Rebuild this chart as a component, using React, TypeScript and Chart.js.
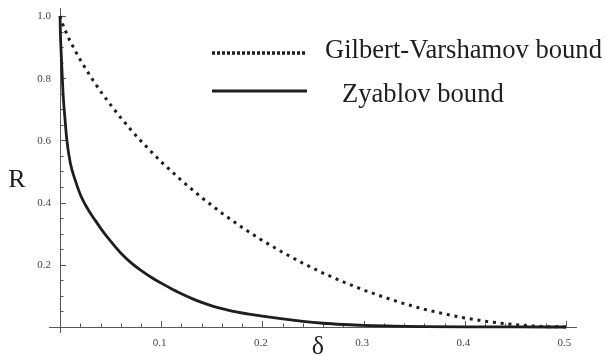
import React, { useEffect, useRef } from "react";
import { Chart, registerables } from "chart.js";

Chart.register(...registerables);

// Gilbert-Varshamov bound
const gvDelta = [0, 0.0025, 0.005, 0.0075, 0.01, 0.015, 0.02, 0.03, 0.04, 0.05, 0.06, 0.07, 0.08, 0.09, 0.1, 0.12, 0.14, 0.16, 0.18, 0.2, 0.22, 0.24, 0.26, 0.28, 0.3, 0.32, 0.34, 0.36, 0.38, 0.4, 0.42, 0.44, 0.46, 0.48, 0.5];
const gvRate = [1.0, 0.975, 0.955, 0.936, 0.919, 0.888, 0.859, 0.806, 0.758, 0.714, 0.673, 0.634, 0.598, 0.564, 0.531, 0.471, 0.416, 0.366, 0.32, 0.278, 0.24, 0.205, 0.173, 0.145, 0.119, 0.096, 0.075, 0.057, 0.042, 0.029, 0.0185, 0.0104, 0.0046, 0.0012, 0];

// Zyablov bound
const zDelta = [0, 0.0005, 0.001, 0.002, 0.003, 0.005, 0.0066, 0.01, 0.015, 0.02, 0.025, 0.03, 0.035, 0.04, 0.045, 0.05, 0.06, 0.07, 0.08, 0.09, 0.1, 0.11, 0.12, 0.13, 0.14, 0.15, 0.16, 0.17, 0.18, 0.19, 0.2, 0.22, 0.24, 0.26, 0.28, 0.3, 0.33, 0.36, 0.4, 0.45, 0.5];
const zRate = [1.0, 0.93, 0.89, 0.82, 0.75, 0.665, 0.605, 0.53, 0.472, 0.426, 0.393, 0.366, 0.342, 0.318, 0.296, 0.276, 0.238, 0.207, 0.182, 0.16, 0.141, 0.123, 0.107, 0.092, 0.079, 0.068, 0.059, 0.051, 0.045, 0.04, 0.035, 0.026, 0.018, 0.012, 0.008, 0.005, 0.003, 0.0015, 0.0005, 0.0001, 0];

const seriesLabels = ["Gilbert-Varshamov bound", "Zyablov bound"];

const xMajorTicks = [0.1, 0.2, 0.3, 0.4, 0.5];
const xTickLabels = ["0.1", "0.2", "0.3", "0.4", "0.5"];
const xMinorStep = 0.02;
const yMajorTicks = [0.2, 0.4, 0.6, 0.8, 1.0];
const yTickLabels = ["0.2", "0.4", "0.6", "0.8", "1.0"];
const yMinorStep = 0.05;

const xAxisTitle = "δ";
const yAxisTitle = "R";

const INK = "#1e1e1e";
const AXIS = "#555";
const SERIF = "'Liberation Serif', 'Times New Roman', serif";

const axesPlugin = {
  id: "mathAxes",
  beforeDatasetsDraw(chart: any) {
    const { ctx, chartArea, scales } = chart;
    const xs = scales.x;
    const ys = scales.y;
    const x0 = xs.getPixelForValue(0);
    const y0 = ys.getPixelForValue(0);
    ctx.save();
    ctx.strokeStyle = AXIS;
    ctx.lineWidth = 1;
    ctx.beginPath();
    ctx.moveTo(chartArea.left, y0 + 0.5);
    ctx.lineTo(chartArea.right, y0 + 0.5);
    ctx.moveTo(x0 + 0.5, chartArea.top);
    ctx.lineTo(x0 + 0.5, chartArea.bottom);
    ctx.stroke();

    ctx.beginPath();
    for (let i = 1; i * xMinorStep <= 0.5 + 1e-9; i++) {
      const v = i * xMinorStep;
      const px = Math.round(xs.getPixelForValue(v)) + 0.5;
      ctx.moveTo(px, y0);
      ctx.lineTo(px, y0 - 3.5);
    }
    for (const v of xMajorTicks) {
      const px = Math.round(xs.getPixelForValue(v)) + 0.5;
      ctx.moveTo(px, y0);
      ctx.lineTo(px, y0 - 6);
    }
    for (let i = 1; i * yMinorStep <= 1 + 1e-9; i++) {
      const v = i * yMinorStep;
      const py = Math.round(ys.getPixelForValue(v)) + 0.5;
      ctx.moveTo(x0, py);
      ctx.lineTo(x0 + 3.5, py);
    }
    for (const v of yMajorTicks) {
      const py = Math.round(ys.getPixelForValue(v)) + 0.5;
      ctx.moveTo(x0, py);
      ctx.lineTo(x0 + 6, py);
    }
    ctx.stroke();

    ctx.fillStyle = "#444";
    ctx.font = `11px ${SERIF}`;
    ctx.textAlign = "center";
    ctx.textBaseline = "middle";
    xMajorTicks.forEach((v, i) => {
      ctx.fillText(xTickLabels[i], xs.getPixelForValue(v) - 1.5, y0 + 16.5);
    });
    ctx.textAlign = "right";
    yMajorTicks.forEach((v, i) => {
      ctx.fillText(yTickLabels[i], x0 - 9, ys.getPixelForValue(v) + 0.5);
    });

    ctx.fillStyle = INK;
    ctx.font = `26px ${SERIF}`;
    ctx.textAlign = "center";
    ctx.textBaseline = "alphabetic";
    ctx.fillText(yAxisTitle, 17, 187);
    ctx.fillText(xAxisTitle, 318, 354);
    ctx.restore();
  },
  afterDraw(chart: any) {
    const { ctx } = chart;
    const ds = chart.data.datasets;
    ctx.save();
    ctx.strokeStyle = ds[0].borderColor;
    ctx.lineWidth = 3.3;
    ctx.setLineDash([3, 2]);
    ctx.beginPath();
    ctx.moveTo(212, 53);
    ctx.lineTo(306, 53);
    ctx.stroke();
    ctx.setLineDash([]);
    ctx.strokeStyle = ds[1].borderColor;
    ctx.lineWidth = 3;
    ctx.beginPath();
    ctx.moveTo(212, 91);
    ctx.lineTo(307, 91);
    ctx.stroke();
    ctx.fillStyle = INK;
    ctx.font = `26.6px ${SERIF}`;
    ctx.textAlign = "left";
    ctx.textBaseline = "alphabetic";
    ctx.fillText(ds[0].label, 325, 58);
    ctx.fillText(ds[1].label, 342, 101.5);
    ctx.restore();
  },
};

export default function App() {
  const ref = useRef<HTMLCanvasElement | null>(null);
  useEffect(() => {
    if (!ref.current) return;
    const chart = new Chart(ref.current, {
      type: "scatter",
      data: {
        datasets: [
          {
            label: seriesLabels[0],
            data: gvDelta.map((d, i) => ({ x: d, y: gvRate[i] })),
            showLine: true,
            borderColor: INK,
            borderWidth: 3,
            borderDash: [3, 4.8],
            borderCapStyle: "butt",
            pointRadius: 0,
            tension: 0,
          },
          {
            label: seriesLabels[1],
            data: zDelta.map((d, i) => ({ x: d, y: zRate[i] })),
            showLine: true,
            borderColor: INK,
            borderWidth: 2.8,
            pointRadius: 0,
            cubicInterpolationMode: "monotone",
          },
        ],
      },
      options: {
        animation: false,
        responsive: false,
        devicePixelRatio: 1,
        layout: { padding: { left: 49, right: 30, top: 8, bottom: 23 } },
        plugins: { legend: { display: false }, tooltip: { enabled: false } },
        scales: {
          x: { type: "linear", min: -0.0109, max: 0.5109, display: false },
          y: { type: "linear", min: -0.0193, max: 1.0257, display: false },
        },
      },
      plugins: [axesPlugin],
    } as any);
    return () => chart.destroy();
  }, []);
  return (
    <div style={{ position: "absolute", left: 0, top: 0, width: 607, height: 356, background: "#fff" }}>
      <canvas ref={ref} width={607} height={356} style={{ display: "block" }} />
    </div>
  );
}
